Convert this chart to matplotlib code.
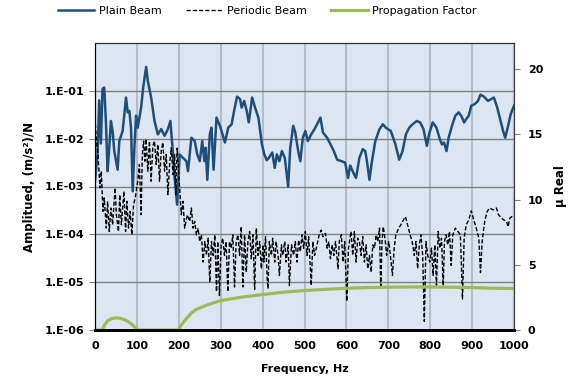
import numpy as np
import matplotlib.pyplot as plt
from matplotlib.ticker import NullLocator

plt.rcParams['font.family'] = ['Liberation Sans Narrow', 'DejaVu Sans']

# Plain Beam: frequency (Hz) and log10 of amplitude
plain_freq = [0, 3, 6, 10, 14, 18, 22, 26, 30, 34, 38, 42, 46, 54, 58, 66, 74, 78, 82, 86,
              90, 94, 98, 102, 110, 115, 122, 126, 134, 142, 150, 158, 166, 174, 180, 185, 190, 196, 202, 210,
              218, 222, 230, 238, 244, 250, 256, 261, 264, 268, 274, 278, 283, 290, 298, 302, 310, 318, 326, 332,
              339, 346, 350, 356, 362, 367, 375, 382, 390, 398, 404, 410, 415, 423, 429, 434, 440, 446, 453, 461,
              466, 473, 478, 485, 490, 496, 502, 508, 516, 524, 530, 538, 544, 554, 562, 570, 578, 588, 597, 604,
              609, 617, 623, 631, 639, 645, 649, 655, 661, 669, 679, 687, 694, 706, 717, 726, 734, 742, 750, 758,
              768, 776, 784, 792, 798, 806, 815, 823, 828, 833, 839, 844, 852, 860, 868, 874, 881, 886, 892, 898,
              906, 914, 920, 928, 938, 946, 952, 960, 968, 974, 979, 986, 992, 1000]
plain_exp = [-2.90, -2.60, -2.33, -1.20, -2.10, -0.96, -0.93, -1.63, -2.68, -2.19, -1.63, -1.84, -2.26, -2.65, -2.05, -1.84, -1.14, -1.45, -1.42, -1.77,
             -3.10, -2.19, -1.52, -1.77, -1.35, -0.93, -0.50, -0.79, -1.14, -1.63, -1.91, -1.80, -1.94, -1.80, -1.63, -2.19, -2.82, -3.38, -2.33, -2.40,
             -2.47, -2.68, -1.98, -2.05, -2.33, -2.47, -2.05, -2.47, -2.19, -2.86, -1.91, -1.77, -2.65, -1.56, -1.73, -1.84, -2.08, -1.77, -1.70, -1.42,
             -1.12, -1.17, -1.35, -1.21, -1.42, -1.66, -1.14, -1.35, -1.56, -2.10, -2.33, -2.45, -2.40, -2.29, -2.61, -2.33, -2.47, -2.26, -2.40, -3.00,
             -2.19, -1.73, -1.87, -2.26, -2.47, -1.98, -1.84, -2.05, -1.91, -1.80, -1.70, -1.56, -1.87, -1.98, -2.12, -2.26, -2.44, -2.47, -2.50, -2.82,
             -2.56, -2.72, -2.82, -2.40, -2.22, -2.26, -2.47, -2.86, -2.47, -2.05, -1.80, -1.70, -1.77, -1.84, -2.12, -2.44, -2.26, -1.91, -1.77, -1.70,
             -1.63, -1.66, -1.80, -2.15, -1.88, -1.66, -1.77, -2.01, -2.12, -2.08, -2.26, -1.98, -1.73, -1.52, -1.45, -1.52, -1.66, -1.59, -1.52, -1.31,
             -1.28, -1.21, -1.08, -1.12, -1.21, -1.17, -1.14, -1.35, -1.63, -1.84, -1.98, -1.73, -1.49, -1.31]

# Periodic Beam: frequency (Hz) and log10 of amplitude
periodic_freq = [0, 3, 7, 12, 15, 19, 22, 27, 30, 34, 38, 42, 48, 51, 56, 59, 63, 69, 73, 76,
                 80, 84, 88, 92, 96, 102, 106, 110, 113, 116, 119, 122, 126, 130, 134, 138, 142, 146, 150, 154,
                 158, 162, 166, 170, 174, 178, 182, 186, 190, 193, 196, 199, 202, 206, 210, 214, 220, 226, 230, 234,
                 238, 242, 246, 250, 254, 258, 262, 266, 270, 274, 278, 282, 286, 290, 293, 297, 301, 305, 309, 313,
                 317, 321, 325, 329, 333, 337, 341, 345, 349, 353, 357, 361, 365, 369, 373, 377, 381, 385, 389, 393,
                 397, 401, 403, 407, 411, 413, 416, 421, 424, 429, 432, 437, 440, 445, 448, 453, 456, 461, 464, 469,
                 474, 478, 482, 486, 490, 494, 498, 502, 506, 510, 516, 520, 524, 530, 535, 540, 544, 550, 554, 558,
                 562, 566, 570, 574, 580, 583, 588, 592, 596, 601, 605, 609, 611, 615, 619, 623, 627, 631, 635, 639,
                 643, 647, 651, 655, 659, 663, 667, 671, 675, 679, 682, 685, 688, 693, 696, 701, 705, 710, 714, 718,
                 725, 730, 736, 741, 746, 752, 757, 762, 766, 770, 774, 778, 782, 786, 790, 794, 799, 803, 807, 811,
                 815, 819, 823, 827, 831, 834, 838, 842, 846, 850, 854, 860, 866, 872, 877, 881, 886, 892, 898, 904,
                 910, 916, 920, 924, 930, 936, 942, 950, 958, 963, 970, 976, 982, 986, 990, 995, 1000]
periodic_exp = [-1.56, -2.00, -2.33, -3.03, -2.68, -3.52, -3.24, -3.87, -3.31, -3.94, -3.45, -3.80, -3.03, -3.59, -3.94, -3.17, -3.80, -3.10, -3.94, -3.31,
                -3.87, -3.52, -4.01, -3.38, -3.24, -2.89, -2.54, -3.59, -2.33, -2.05, -2.47, -2.01, -2.68, -2.05, -2.89, -2.15, -2.05, -2.54, -2.12, -2.89,
                -2.26, -2.08, -2.68, -2.33, -3.17, -2.54, -2.19, -2.75, -2.33, -3.17, -2.20, -2.60, -3.03, -3.59, -3.31, -3.87, -3.59, -3.73, -3.45, -3.87,
                -3.73, -4.01, -3.87, -4.15, -4.01, -4.58, -4.15, -4.44, -4.08, -5.00, -4.15, -4.44, -4.01, -5.20, -4.15, -5.28, -4.22, -4.08, -4.44, -4.15,
                -5.20, -4.15, -4.29, -4.01, -5.10, -4.15, -4.01, -4.44, -3.84, -5.10, -4.01, -4.79, -4.15, -3.94, -4.51, -4.01, -5.15, -3.87, -4.44, -4.15,
                -4.72, -4.22, -4.58, -4.05, -4.93, -5.14, -4.15, -4.44, -4.08, -4.58, -4.15, -4.44, -4.86, -4.22, -4.44, -4.15, -4.58, -4.22, -5.07, -4.22,
                -4.44, -4.15, -4.58, -4.12, -4.36, -4.01, -4.29, -3.94, -4.44, -4.05, -5.07, -4.15, -4.44, -4.22, -4.01, -3.91, -4.05, -3.98, -4.29, -4.15,
                -4.51, -4.22, -4.44, -4.15, -4.72, -4.15, -4.01, -4.58, -4.15, -5.40, -4.29, -4.05, -3.94, -4.44, -3.94, -4.58, -4.08, -4.15, -4.44, -4.05,
                -4.58, -4.22, -4.72, -4.44, -4.79, -4.22, -4.29, -4.01, -4.15, -3.87, -5.14, -4.15, -3.84, -4.15, -4.44, -4.15, -4.44, -4.86, -4.29, -4.01,
                -3.87, -3.80, -3.70, -3.63, -3.80, -4.01, -4.15, -4.44, -4.15, -4.72, -4.22, -4.01, -4.44, -5.82, -4.15, -4.44, -4.58, -4.29, -4.86, -4.22,
                -5.07, -3.94, -4.29, -4.08, -5.07, -4.15, -4.01, -4.22, -3.94, -4.65, -4.01, -3.87, -3.94, -4.01, -5.35, -4.08, -3.80, -3.70, -3.51, -3.70,
                -3.87, -4.08, -4.80, -4.15, -3.73, -3.52, -3.45, -3.49, -3.45, -3.59, -3.66, -3.70, -3.73, -3.84, -3.66, -3.63, -3.66]

# Propagation Factor (mu real), right axis
prop_freq = [0, 18, 22, 30, 40, 50, 60, 70, 80, 90, 97, 102, 200, 203, 210, 220, 230, 240, 255, 270,
             300, 350, 400, 450, 500, 550, 600, 650, 700, 750, 800, 850, 900, 950, 1000]
prop_val = [0, 0, 0.35, 0.70, 0.88, 0.93, 0.90, 0.80, 0.62, 0.38, 0.12, 0, 0, 0.25, 0.55, 0.95, 1.30, 1.55, 1.75, 1.95,
            2.25, 2.52, 2.72, 2.90, 3.02, 3.12, 3.20, 3.25, 3.28, 3.30, 3.30, 3.28, 3.25, 3.20, 3.18]

left_ticks = [1e-6, 1e-5, 1e-4, 1e-3, 1e-2, 1e-1]
left_labels = ['1.E-06', '1.E-05', '1.E-04', '1.E-03', '1.E-02', '1.E-01']
right_ticks = [0, 5, 10, 15, 20]
x_ticks = list(range(0, 1001, 100))

plain_amp = 10.0 ** np.array(plain_exp)
periodic_amp = 10.0 ** np.array(periodic_exp)

fig = plt.figure(figsize=(5.71, 3.92), dpi=100)
ax = fig.add_axes([95 / 571, 1 - 330 / 392, (514 - 95) / 571, (330 - 43) / 392])
ax.set_facecolor('#DCE6F2')
ax.set_axisbelow(True)

l1, = ax.semilogy(plain_freq, plain_amp, color='#1F4E7A', lw=1.8, label='Plain Beam')
l2, = ax.semilogy(periodic_freq, periodic_amp, color='black', lw=1.0, ls=(0, (3, 1.5)),
                  label='Periodic Beam')

ax.set_xlim(0, 1000)
ax.set_ylim(1e-6, 1)
ax.set_yticks(left_ticks)
ax.set_yticklabels(left_labels)
ax.yaxis.set_minor_locator(NullLocator())
ax.set_xticks(x_ticks)
ax.grid(axis='y', color='#808080', lw=1)
ax.grid(axis='x', color='#B4BCC6', lw=1.5)
ax.tick_params(axis='x', length=0, pad=8, labelsize=8)
ax.tick_params(axis='y', length=4, color='#808080', labelsize=8)
for lab in ax.get_xticklabels() + ax.get_yticklabels():
    lab.set_fontweight('bold')
ax.spines['bottom'].set_linewidth(2)
ax.spines['bottom'].set_color('black')
ax.spines['left'].set_color('#404040')
ax.spines['top'].set_color('#303030')
ax.spines['right'].set_color('#404040')
ax.set_xlabel('Frequency, Hz', fontsize=8, fontweight='bold', labelpad=9)
ax.set_ylabel('Amplitued, (m/s²)/N', fontsize=8.5, fontweight='bold', labelpad=6)

ax2 = ax.twinx()
l3, = ax2.plot(prop_freq, prop_val, color='#9BBB59', lw=2.3, label='Propagation Factor')
ax2.set_ylim(0, 22)
ax2.set_yticks(right_ticks)
ax2.tick_params(axis='y', length=4, color='#808080', labelsize=8, pad=6)
for lab in ax2.get_yticklabels():
    lab.set_fontweight('bold')
ax2.spines['right'].set_color('#404040')
ax2.spines['top'].set_color('#303030')
ax2.spines['bottom'].set_linewidth(2)
ax2.set_ylabel('μ Real', fontsize=8.5, fontweight='bold', labelpad=8,
               family=['DejaVu Sans'])

fig.legend([l1, l2, l3], ['Plain Beam', 'Periodic Beam', 'Propagation Factor'],
           loc='upper center', bbox_to_anchor=(0.468, 1.01), ncol=3, frameon=False,
           fontsize=8, handlelength=3.3, columnspacing=2.2, handletextpad=0.4)

fig.savefig('out.png', dpi=100)
